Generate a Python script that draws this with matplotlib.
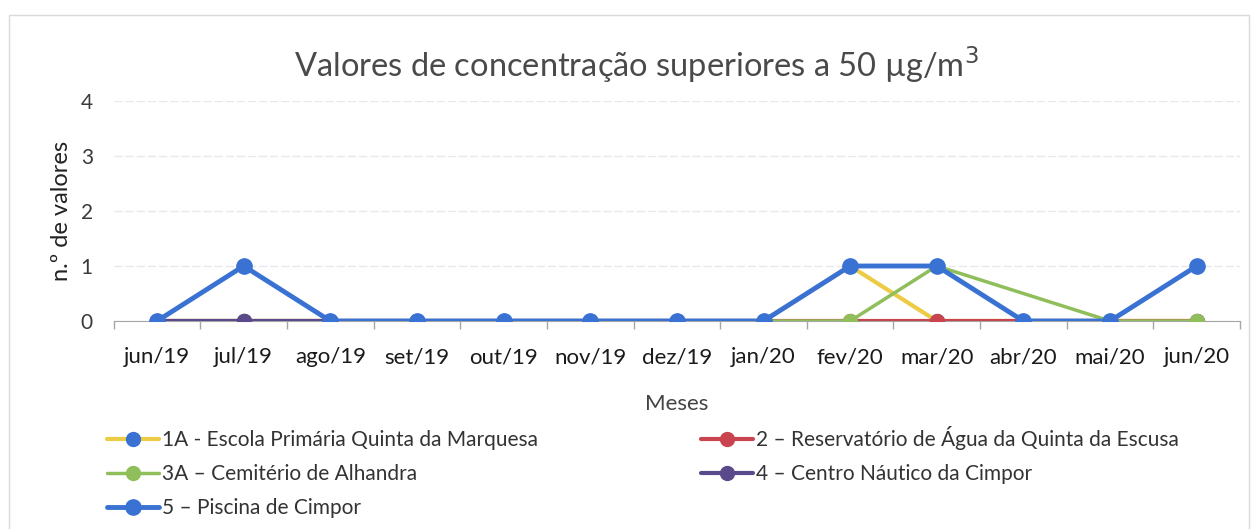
import matplotlib.pyplot as plt
from matplotlib.patches import Rectangle
from matplotlib.ticker import FixedLocator

plt.rcParams['font.family'] = ['Lato', 'DejaVu Sans']

# meses do eixo x
meses = ['jun/19', 'jul/19', 'ago/19', 'set/19', 'out/19', 'nov/19', 'dez/19',
         'jan/20', 'fev/20', 'mar/20', 'abr/20', 'mai/20', 'jun/20']

# número de valores por estação (None = sem dados)
escola_1a = [0, 0, 0, 0, 0, 0, 0, 0, 1, 0, 0, 0, 0]
reservatorio_2 = [0, 0, 0, 0, 0, 0, 0, 0, 0, 0, 0, 0, 0]
cemiterio_3a = [0, 0, 0, 0, 0, 0, 0, 0, 0, 1, None, 0, 0]
nautico_4 = [0, 0, 0, None, None, None, None, None, None, None, None, None, None]
piscina_5 = [0, 1, 0, 0, 0, 0, 0, 0, 1, 1, 0, 0, 1]

nomes = ['1A - Escola Primária Quinta da Marquesa',
         '2 – Reservatório de Água da Quinta da Escusa',
         '3A – Cemitério de Alhandra',
         '4 – Centro Náutico da Cimpor',
         '5 – Piscina de Cimpor']

series = [
    (escola_1a, '#EDCB45', '#3A72D3', 3.0, 10),
    (reservatorio_2, '#C9444E', '#C9444E', 3.0, 10),
    (cemiterio_3a, '#8FBE5A', '#8FBE5A', 2.5, 10),
    (nautico_4, '#5A4A8C', '#5A4A8C', 3.0, 10),
    (piscina_5, '#3A72D3', '#3A72D3', 3.5, 11),
]

fig = plt.figure(figsize=(12.58, 5.29), dpi=100)
fig.patches.append(Rectangle((0.007, -0.01), 0.986, 0.982, transform=fig.transFigure,
                             fill=False, edgecolor='#D9D9D9', linewidth=1))

ax = fig.add_axes([0.0904, 0.3932, 0.8953, 0.4158])

handles = []
for (vals, cor, cor_marc, lw, ms), nome in zip(series, nomes):
    xs = [i for i, v in enumerate(vals) if v is not None]
    ys = [v for v in vals if v is not None]
    h, = ax.plot(xs, ys, color=cor, linewidth=lw, marker='o', markersize=ms,
                 markerfacecolor=cor_marc, markeredgecolor=cor_marc,
                 solid_capstyle='round', label=nome, zorder=3)
    handles.append(h)

ax.set_xlim(-0.5, len(meses) - 0.5)
ax.set_ylim(0, 4)
ax.set_yticks([0, 1, 2, 3, 4])
ax.set_xticks(range(len(meses)))
ax.set_xticklabels(meses)
ax.xaxis.set_minor_locator(FixedLocator([i - 0.5 for i in range(len(meses) + 1)]))
ax.tick_params(axis='x', which='major', length=0, pad=19, labelsize=16, labelcolor='#1a1a1a')
ax.tick_params(axis='x', which='minor', length=6, width=1, color='#A6A6A6', direction='out')
ax.tick_params(axis='y', length=0, pad=15, labelsize=15, labelcolor='#3a3a3a')

ax.grid(axis='y', color='#E6E9EE', linewidth=1, linestyle=(0, (6, 2)))
ax.set_axisbelow(True)
for s in ['top', 'right', 'left']:
    ax.spines[s].set_visible(False)
ax.spines['bottom'].set_color('#A6A6A6')

fig.text(0.506, 0.877, 'Valores de concentração superiores a 50 µg/m$^3$', fontsize=23.5,
         color='#4a4a4a', ha='center', va='center')
ax.set_ylabel('n.º de valores', fontsize=17, color='#222222', labelpad=6)
ax.set_xlabel('Meses', fontsize=16, color='#444444', labelpad=19)

ordem = [handles[0], handles[2], handles[4], handles[1], handles[3]]
fig.legend(ordem, [h.get_label() for h in ordem], ncol=2, frameon=False,
           loc='upper left', bbox_to_anchor=(0.07, 0.23), fontsize=15,
           handlelength=2.5, handletextpad=0.15, columnspacing=7.8,
           labelspacing=0.67, labelcolor='#333333')

fig.savefig('out.png', dpi=100)
